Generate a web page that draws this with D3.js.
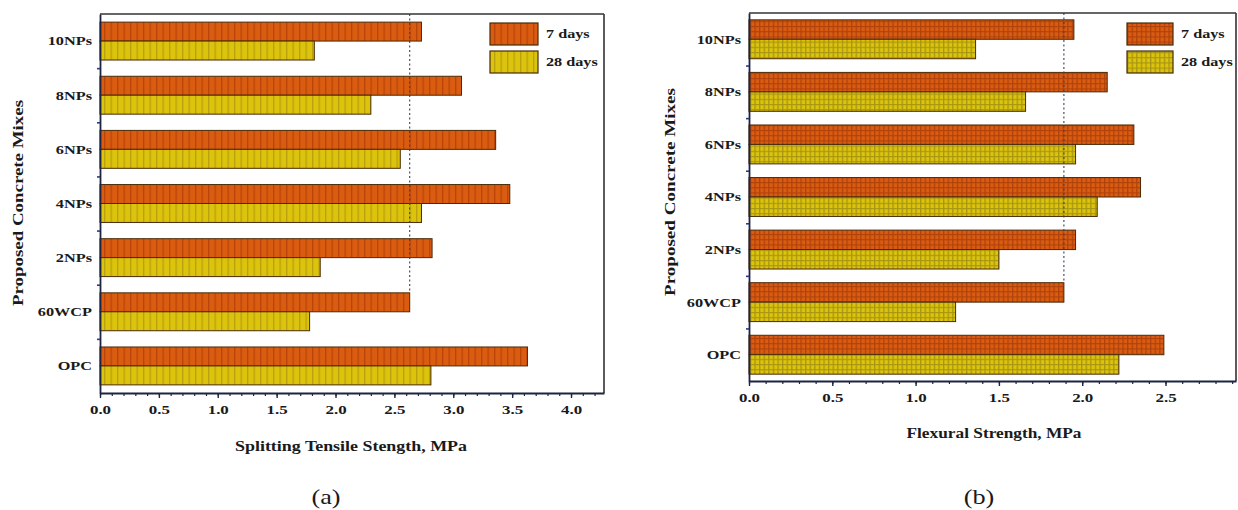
<!DOCTYPE html>
<html>
<head>
<meta charset="utf-8">
<script src="https://cdn.jsdelivr.net/npm/d3@7"></script>
<style>
  html, body { margin: 0; padding: 0; background: #ffffff; }
  svg { display: block; }
  text { font-family: "Liberation Serif", "Times New Roman", serif; fill: #1a1a1a; }
</style>
</head>
<body>
<svg id="chart" width="1238" height="510"></svg>
<script>
// ---------- data ----------
const categories = ["10NPs", "8NPs", "6NPs", "4NPs", "2NPs", "60WCP", "OPC"];
const seriesNames = ["7 days", "28 days"];
const splitting7 = [2.73, 3.07, 3.36, 3.48, 2.82, 2.63, 3.63];
const splitting28 = [1.82, 2.30, 2.55, 2.73, 1.87, 1.78, 2.81];
const flexural7 = [1.95, 2.15, 2.31, 2.35, 1.96, 1.89, 2.49];
const flexural28 = [1.36, 1.66, 1.96, 2.09, 1.50, 1.24, 2.22];
const splittingRefCategory = "60WCP";
const flexuralRefCategory = "60WCP";
const splittingTickLabels = ["0.0", "0.5", "1.0", "1.5", "2.0", "2.5", "3.0", "3.5", "4.0"];
const flexuralTickLabels = ["0.0", "0.5", "1.0", "1.5", "2.0", "2.5"];
const yTitle = "Proposed Concrete Mixes";

const svg = d3.select("#chart");
const defs = svg.append("defs");

// patterns
function stripePattern(id, base, line, w, h, cross) {
  const p = defs.append("pattern").attr("id", id)
    .attr("patternUnits", "userSpaceOnUse").attr("width", w).attr("height", h);
  p.append("rect").attr("width", w).attr("height", h).attr("fill", base);
  p.append("rect").attr("x", 0).attr("y", 0).attr("width", 1.3).attr("height", h).attr("fill", line);
  if (cross) p.append("rect").attr("x", 0).attr("y", 0).attr("width", w).attr("height", 1.1).attr("fill", line);
}
stripePattern("orV", "#da5c10", "#b8440a", 6.5, 10, false);
stripePattern("yeV", "#dcc30c", "#b9a010", 6.5, 10, false);
stripePattern("orX", "#da5c10", "#b0420c", 4.6, 5.2, true);
stripePattern("yeX", "#dcc30c", "#a89612", 4.6, 5.2, true);

const STRETCH = 1.3;
function stretch(sel, factor) {
  sel.each(function () {
    const w = this.getComputedTextLength();
    if (w > 0) d3.select(this).attr("textLength", w * (factor || STRETCH)).attr("lengthAdjust", "spacingAndGlyphs");
  });
}

function panel(cfg) {
  const g = svg.append("g");
  const x = d3.scaleLinear().domain([0, cfg.xMax]).range([cfg.x0, cfg.x1]);
  const y = d3.scaleBand().domain(categories).range([cfg.y0, cfg.y1])
    .paddingInner(cfg.pi).paddingOuter(cfg.po);
  const sub = d3.scaleBand().domain(seriesNames).range([0, y.bandwidth()]);
  const vals = [cfg.v7, cfg.v28];
  const fills = [cfg.fill7, cfg.fill28];

  // bars
  seriesNames.forEach((s, si) => {
    g.append("g").selectAll("rect").data(categories).join("rect")
      .attr("x", x(0))
      .attr("y", c => y(c) + sub(s))
      .attr("width", (c, i) => x(vals[si][i]) - x(0))
      .attr("height", sub.bandwidth())
      .attr("fill", `url(#${fills[si]})`)
      .attr("stroke", "#4a2a08").attr("stroke-width", 1);
  });

  // reference dotted line
  const ri = categories.indexOf(cfg.refCat);
  const refV = cfg.v7[ri];
  g.append("line")
    .attr("x1", x(refV)).attr("x2", x(refV))
    .attr("y1", cfg.y0).attr("y2", y(cfg.refCat))
    .attr("stroke", "#3a4058").attr("stroke-width", 1.1).attr("stroke-dasharray", "2,2.5");

  // frame top & right
  g.append("line").attr("x1", cfg.x0).attr("x2", cfg.x1).attr("y1", cfg.y0).attr("y2", cfg.y0)
    .attr("stroke", "#333").attr("stroke-width", 1.6);
  g.append("line").attr("x1", cfg.x1).attr("x2", cfg.x1).attr("y1", cfg.y0).attr("y2", cfg.y1)
    .attr("stroke", "#333").attr("stroke-width", 1.6);

  // x axis: minor ticks
  const minor = d3.range(0, cfg.xMax + 1e-9, 0.1);
  const xMinor = d3.axisBottom(x).tickValues(minor).tickSize(3).tickFormat("");
  g.append("g").attr("transform", `translate(0,${cfg.y1})`).call(xMinor)
    .call(a => a.select(".domain").remove())
    .call(a => a.selectAll("line").attr("stroke", "#1c2440").attr("stroke-width", 1.2));
  // major ticks with labels
  const majorVals = cfg.tickLabels.map(t => +t);
  const xMajor = d3.axisBottom(x).tickValues(majorVals).tickSize(5).tickPadding(7)
    .tickFormat((d, i) => cfg.tickLabels[i]).tickSizeOuter(0);
  const xa = g.append("g").attr("transform", `translate(0,${cfg.y1})`).call(xMajor);
  xa.select(".domain").attr("stroke", "#1c2440").attr("stroke-width", 1.8);
  xa.selectAll("line").attr("stroke", "#1c2440").attr("stroke-width", 1.4);
  xa.selectAll("text").attr("font-size", 13).attr("font-weight", "bold")
    .attr("font-family", "Liberation Serif, serif").attr("fill", "#1a1a1a").call(stretch);

  // y axis line + ticks at band boundaries
  const yb = d3.scaleLinear().domain([0, categories.length]).range([cfg.y0, cfg.y1]);
  const ya = g.append("g").attr("transform", `translate(${cfg.x0},0)`)
    .call(d3.axisLeft(yb).tickValues(d3.range(1, categories.length)).tickSize(3).tickFormat("").tickSizeOuter(0));
  ya.select(".domain").attr("stroke", "#1c2440").attr("stroke-width", 1.8);
  ya.selectAll("line").attr("stroke", "#2a3a80").attr("stroke-width", 1.6);

  // category labels
  g.append("g").selectAll("text").data(categories).join("text")
    .attr("x", cfg.x0 - 8)
    .attr("y", c => y(c) + y.bandwidth() / 2)
    .attr("dy", "0.35em")
    .attr("text-anchor", "end")
    .attr("font-size", 12.5).attr("font-weight", "bold")
    .text(c => c).call(stretch);

  // axis titles
  g.append("text").attr("x", cfg.titleX).attr("y", cfg.titleY)
    .attr("text-anchor", "middle").attr("font-size", 14).attr("font-weight", "bold")
    .attr("textLength", cfg.titleLen).attr("lengthAdjust", "spacingAndGlyphs")
    .text(cfg.xTitle);
  g.append("text")
    .attr("transform", `translate(${cfg.yTitleX},${cfg.yTitleY}) rotate(-90)`)
    .attr("text-anchor", "middle").attr("font-size", 15).attr("font-weight", "bold")
    .attr("textLength", cfg.yTitleLen).attr("lengthAdjust", "spacingAndGlyphs")
    .text(yTitle);

  // legend
  const lg = g.append("g");
  seriesNames.forEach((s, i) => {
    lg.append("rect").attr("x", cfg.legX).attr("y", cfg.legY + i * 28)
      .attr("width", cfg.legW).attr("height", 22)
      .attr("fill", `url(#${fills[i]})`).attr("stroke", "#4a2a08").attr("stroke-width", 1.2);
    lg.append("text").attr("x", cfg.legX + cfg.legW + 8).attr("y", cfg.legY + i * 28 + 11)
      .attr("dy", "0.35em").attr("font-size", 12).attr("font-weight", "bold")
      .text(s).call(stretch, 1.35);
  });

  // panel letter
  g.append("text").attr("x", cfg.letterX).attr("y", 497).attr("dy", "0.35em")
    .attr("text-anchor", "middle").attr("font-size", 21)
    .text(cfg.letter).call(stretch, 1.25);
}

panel({
  x0: 100, x1: 604, y0: 14, y1: 393, xMax: 4.28, pi: 0.3, po: 0.15,
  v7: splitting7, v28: splitting28, fill7: "orV", fill28: "yeV",
  refCat: splittingRefCategory, tickLabels: splittingTickLabels,
  xTitle: "Splitting Tensile Stength, MPa", titleX: 351, titleY: 451, titleLen: 232,
  yTitleX: 23, yTitleY: 203, yTitleLen: 206,
  legX: 490, legY: 23, legW: 48, letter: "(a)", letterX: 326
});

panel({
  x0: 749, x1: 1236, y0: 13, y1: 381, xMax: 2.923, pi: 0.26, po: 0.13,
  v7: flexural7, v28: flexural28, fill7: "orX", fill28: "yeX",
  refCat: flexuralRefCategory, tickLabels: flexuralTickLabels,
  xTitle: "Flexural Strength, MPa", titleX: 994, titleY: 438, titleLen: 175,
  yTitleX: 675, yTitleY: 192, yTitleLen: 208,
  legX: 1127, legY: 23, legW: 46, letter: "(b)", letterX: 979
});
</script>
</body>
</html>
